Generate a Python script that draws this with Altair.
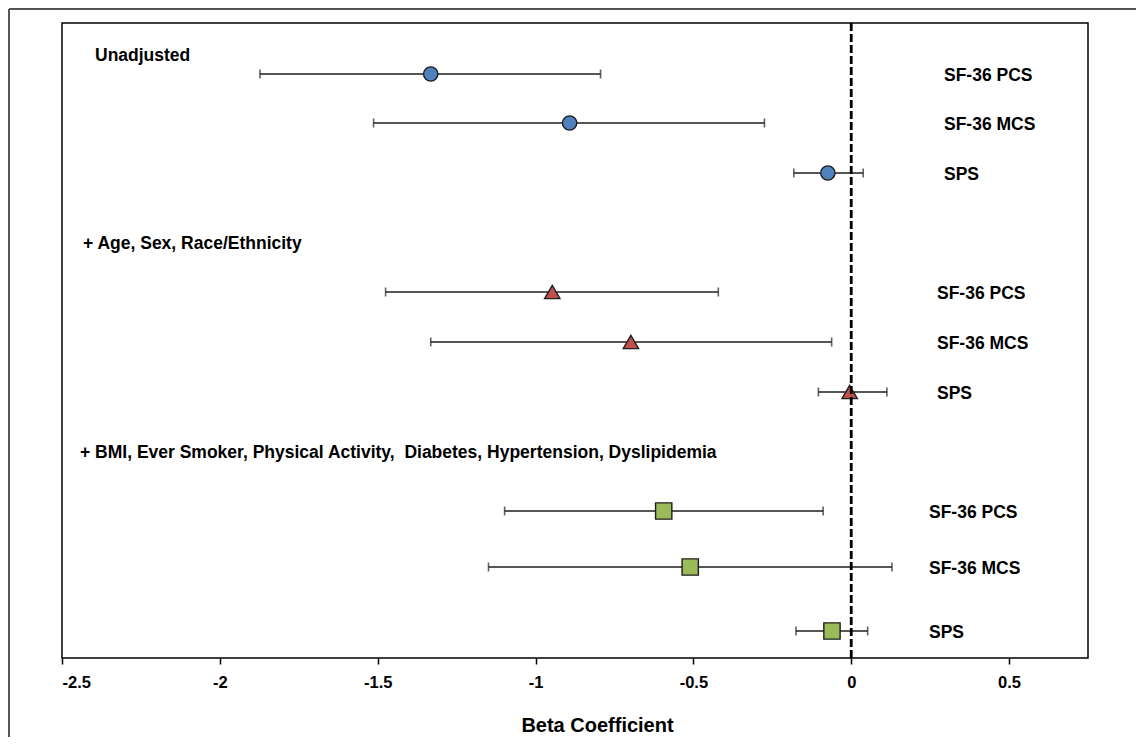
import altair as alt
import pandas as pd

# ---- data ----
model_names = ["Unadjusted", "Unadjusted", "Unadjusted",
               "Demographic", "Demographic", "Demographic",
               "Full", "Full", "Full"]
outcomes = ["SF-36 PCS", "SF-36 MCS", "SPS",
            "SF-36 PCS", "SF-36 MCS", "SPS",
            "SF-36 PCS", "SF-36 MCS", "SPS"]
beta = [-1.332, -0.892, -0.074,
        -0.947, -0.698, -0.005,
        -0.594, -0.510, -0.061]
ci_low = [-1.873, -1.513, -0.182,
          -1.475, -1.332, -0.104,
          -1.098, -1.149, -0.175]
ci_high = [-0.794, -0.275, 0.038,
           -0.421, -0.062, 0.113,
           -0.089, 0.129, 0.052]
# forest-plot row slots (top to bottom)
row_slot = [5.1, 10.0, 15.0, 26.9, 31.9, 36.9, 48.8, 54.4, 60.8]

group_keys = ["Unadjusted", "Demographic", "Full"]
group_titles = ["Unadjusted",
                "+ Age, Sex, Race/Ethnicity",
                "+ BMI, Ever Smoker, Physical Activity,\u00a0 Diabetes, Hypertension, Dyslipidemia"]
group_slot = [3.3, 22.1, 43.0]
x_ticks = [-2.5, -2, -1.5, -1, -0.5, 0, 0.5]

df = pd.DataFrame({"model": model_names, "outcome": outcomes, "beta": beta,
                   "lo": ci_low, "hi": ci_high, "row": row_slot})
hdr = pd.DataFrame({"model": group_keys, "title": group_titles, "row": group_slot})
zero = pd.DataFrame({"v": [0]})
one = pd.DataFrame({"a": [0]})

FONT = "Liberation Sans"
INK = "#1e1e1e"

xscale = alt.Scale(domain=[-2.5, 0.75], nice=False, zero=False)
yscale = alt.Scale(domain=[0, 63.5], reverse=True, nice=False, zero=False)

xaxis = alt.Axis(values=x_ticks, labelExpr="'' + datum.value", grid=False, domain=False,
                 labelFont=FONT, labelFontSize=16.5, labelFontWeight="bold", labelColor="black",
                 tickColor="black", tickSize=6, tickWidth=1.5, labelPadding=10,
                 title="Beta Coefficient", titleFont=FONT, titleFontSize=20,
                 titleFontWeight="bold", titleColor="black", titleX=535, titleY=57,
                 titleBaseline="top", titleAlign="center")

base = alt.Chart(df)

bars = base.mark_rule(color=INK, strokeWidth=1.4).encode(
    x=alt.X("lo:Q", scale=xscale, axis=xaxis),
    x2="hi:Q",
    y=alt.Y("row:Q", scale=yscale, axis=None),
)
cap_lo = base.mark_tick(orient="vertical", size=9, thickness=1.6, color=INK).encode(
    x="lo:Q", y="row:Q")
cap_hi = base.mark_tick(orient="vertical", size=9, thickness=1.6, color=INK).encode(
    x="hi:Q", y="row:Q")

points = base.mark_point(filled=True, opacity=1, stroke=INK, strokeWidth=1.4).encode(
    x="beta:Q", y="row:Q",
    shape=alt.Shape("model:N", scale=alt.Scale(domain=group_keys,
                                               range=["circle", "triangle-up", "square"]), legend=None),
    fill=alt.Fill("model:N", scale=alt.Scale(domain=group_keys,
                                             range=["#4F81BD", "#C0504D", "#9BBB59"]), legend=None),
    size=alt.Size("model:N", scale=alt.Scale(domain=group_keys,
                                             range=[205, 265, 235]), legend=None),
)

dash = alt.Chart(zero).mark_rule(color="black", strokeWidth=2.8, strokeDash=[8, 3]).encode(
    x=alt.X("v:Q", scale=xscale))

label_style = dict(align="left", baseline="middle", font=FONT, fontWeight="bold",
                   fontSize=17.5, color="black", dy=2)
lab1 = alt.Chart(df[df.model == "Unadjusted"]).mark_text(**label_style).encode(
    x=alt.value(882), y="row:Q", text="outcome:N")
lab2 = alt.Chart(df[df.model == "Demographic"]).mark_text(**label_style).encode(
    x=alt.value(875), y="row:Q", text="outcome:N")
lab3 = alt.Chart(df[df.model == "Full"]).mark_text(**label_style).encode(
    x=alt.value(867), y="row:Q", text="outcome:N")

hdr_style = dict(align="left", baseline="middle", font=FONT, fontWeight="bold",
                 fontSize=17.5, color="black")
hdr1 = alt.Chart(hdr[hdr.model == "Unadjusted"]).mark_text(**hdr_style).encode(
    x=alt.value(33), y="row:Q", text="title:N")
hdr2 = alt.Chart(hdr[hdr.model == "Demographic"]).mark_text(**hdr_style).encode(
    x=alt.value(21), y="row:Q", text="title:N")
hdr3 = alt.Chart(hdr[hdr.model == "Full"]).mark_text(**hdr_style).encode(
    x=alt.value(18), y="row:Q", text="title:N")

frame_left = alt.Chart(one).mark_rule(color="#555555", strokeWidth=2).encode(
    x=alt.value(-53), y=alt.value(-14), y2=alt.value(720))
frame_top = alt.Chart(one).mark_rule(color="#555555", strokeWidth=2).encode(
    x=alt.value(-53), x2=alt.value(1080), y=alt.value(-14))

chart = alt.layer(frame_left, frame_top, bars, cap_lo, cap_hi, points, lab1, lab2, lab3,
                  hdr1, hdr2, hdr3, dash).properties(
    width=1026, height=635,
    autosize=alt.AutoSizeParams(type="none"),
    padding={"left": 54, "top": 15, "right": 48, "bottom": 79},
    background="white",
).configure_view(stroke="black", strokeWidth=1.5)

chart.save("out.html", embed_options={"renderer": "svg", "actions": False})
